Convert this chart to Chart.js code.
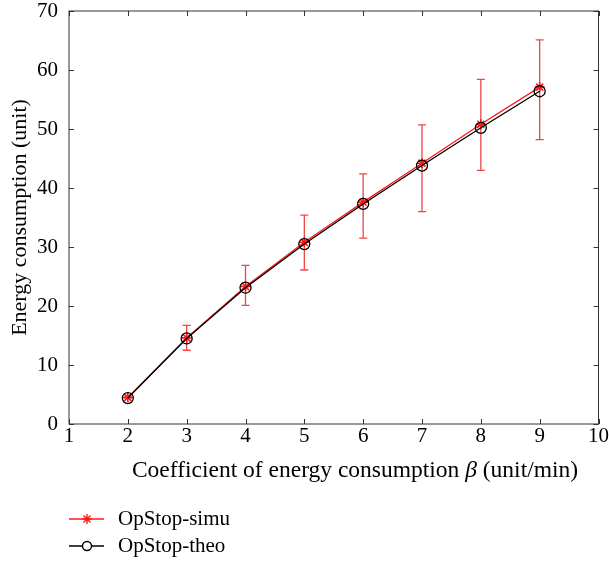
<!DOCTYPE html>
<html>
<head>
<meta charset="utf-8">
<script src="https://cdn.jsdelivr.net/npm/chart.js@4.4.0/dist/chart.umd.min.js"></script>
<style>
html, body { margin: 0; padding: 0; background: #fff; }
#wrap { width: 609px; height: 561px; }
</style>
</head>
<body>
<div id="wrap"><canvas id="chart" width="609" height="561"></canvas></div>
<script>
// ===== DATA =====
var betaValues = [2, 3, 4, 5, 6, 7, 8, 9];
var simuEnergy = [4.5, 14.6, 23.3, 30.8, 37.6, 44.2, 50.8, 57.1];
var simuLow = [4.4, 12.5, 20.1, 26.1, 31.5, 36.0, 43.0, 48.2];
var simuHigh = [4.6, 16.7, 26.9, 35.4, 42.4, 50.7, 58.4, 65.1];
var theoEnergy = [4.4, 14.5, 23.1, 30.5, 37.3, 43.8, 50.2, 56.4];
var xTicks = [1, 2, 3, 4, 5, 6, 7, 8, 9, 10];
var yTicks = [0, 10, 20, 30, 40, 50, 60, 70];
var seriesLabels = ['OpStop-simu', 'OpStop-theo'];
var xTitleParts = ['Coefficient of energy consumption ', 'β', ' (unit/min)'];

var FONT = "'Liberation Serif', 'Times New Roman', serif";
var RED = '#ff1a1a';
var ERR_RED = '#f04545';

function toPoints(ys) {
    return betaValues.map(function (x, i) { return { x: x, y: ys[i] }; });
}

// ===== PLUGINS =====
var errorBars = {
    id: 'errorBars',
    beforeDatasetsDraw: function (chart) {
        var ctx = chart.ctx, xs = chart.scales.x, ys = chart.scales.y;
        ctx.save();
        ctx.strokeStyle = ERR_RED;
        ctx.lineWidth = 1.3;
        for (var i = 0; i < betaValues.length; i++) {
            var px = xs.getPixelForValue(betaValues[i]);
            var top = ys.getPixelForValue(simuHigh[i]);
            var bot = ys.getPixelForValue(simuLow[i]);
            ctx.beginPath();
            ctx.moveTo(px, top); ctx.lineTo(px, bot);
            ctx.moveTo(px - 4, top); ctx.lineTo(px + 4, top);
            ctx.moveTo(px - 4, bot); ctx.lineTo(px + 4, bot);
            ctx.stroke();
        }
        ctx.restore();
    }
};

var frameTicks = {
    id: 'frameTicks',
    afterDraw: function (chart) {
        var ctx = chart.ctx, a = chart.chartArea;
        var xs = chart.scales.x, ys = chart.scales.y;
        var len = 5;
        ctx.save();
        ctx.strokeStyle = '#333';
        ctx.lineWidth = 1;
        ctx.strokeRect(a.left, a.top, a.right - a.left, a.bottom - a.top);
        ctx.beginPath();
        xTicks.forEach(function (v) {
            var px = Math.round(xs.getPixelForValue(v)) + 0.5;
            ctx.moveTo(px, a.bottom); ctx.lineTo(px, a.bottom - len);
            ctx.moveTo(px, a.top); ctx.lineTo(px, a.top + len);
        });
        yTicks.forEach(function (v) {
            var py = Math.round(ys.getPixelForValue(v)) + 0.5;
            ctx.moveTo(a.left, py); ctx.lineTo(a.left + len, py);
            ctx.moveTo(a.right, py); ctx.lineTo(a.right - len, py);
        });
        ctx.stroke();
        ctx.restore();
    }
};

// x title with italic beta, drawn under the axis
var xTitle = {
    id: 'xTitle',
    afterDraw: function (chart) {
        var ctx = chart.ctx;
        var fonts = ['23.5px ' + FONT, 'italic 23.5px ' + FONT, '23.5px ' + FONT];
        ctx.save();
        var widths = xTitleParts.map(function (t, i) { ctx.font = fonts[i]; return ctx.measureText(t).width; });
        var total = widths.reduce(function (s, w) { return s + w; }, 0);
        var x = 355 - total / 2;
        ctx.fillStyle = '#000';
        ctx.textBaseline = 'middle';
        ctx.textAlign = 'left';
        xTitleParts.forEach(function (t, i) {
            ctx.font = fonts[i];
            ctx.fillText(t, x, 471);
            x += widths[i];
        });
        ctx.restore();
    }
};

var sideLegend = {
    id: 'sideLegend',
    afterDraw: function (chart) {
        var ctx = chart.ctx;
        var rows = [
            { y: 519, color: RED, style: 'star', radius: 5, label: seriesLabels[0] },
            { y: 546, color: '#000', style: 'circle', radius: 4.5, label: seriesLabels[1] }
        ];
        ctx.save();
        rows.forEach(function (r) {
            ctx.strokeStyle = r.color;
            ctx.lineWidth = 1.3;
            ctx.beginPath();
            ctx.moveTo(69, r.y); ctx.lineTo(104, r.y);
            ctx.stroke();
            ctx.fillStyle = r.style === 'circle' ? '#fff' : r.color;
            ctx.lineWidth = 1.4;
            Chart.helpers.drawPoint(ctx, { pointStyle: r.style, radius: r.radius, rotation: 0, borderWidth: 1.4 }, 87, r.y);
            ctx.fillStyle = '#000';
            ctx.font = '21px ' + FONT;
            ctx.textBaseline = 'middle';
            ctx.textAlign = 'left';
            ctx.fillText(r.label, 118, r.y);
        });
        ctx.restore();
    }
};

// ===== CHART =====
new Chart(document.getElementById('chart'), {
    type: 'line',
    data: {
        datasets: [{
            label: seriesLabels[1],
            data: toPoints(theoEnergy),
            borderColor: '#000',
            borderWidth: 1.3,
            pointStyle: 'circle',
            pointRadius: 5.5,
            pointBorderColor: '#000',
            pointBackgroundColor: 'rgba(0,0,0,0)',
            pointBorderWidth: 1.3,
            order: 1
        }, {
            label: seriesLabels[0],
            data: toPoints(simuEnergy),
            borderColor: RED,
            borderWidth: 1.3,
            pointStyle: 'star',
            pointRadius: 5,
            pointBorderColor: RED,
            pointBackgroundColor: RED,
            pointBorderWidth: 1.6,
            order: 2
        }]
    },
    options: {
        responsive: false,
        animation: false,
        events: [],
        layout: { padding: { left: 0, right: 0, top: 0, bottom: 77 } },
        plugins: { legend: { display: false }, tooltip: { enabled: false } },
        scales: {
            x: {
                type: 'linear', min: 1, max: 10,
                afterBuildTicks: function (s) { s.ticks = xTicks.map(function (v) { return { value: v }; }); },
                afterFit: function (s) { s.height = 60; },
                grid: { display: false, drawTicks: false },
                border: { display: false },
                ticks: { padding: 0, color: '#000', font: { family: FONT, size: 21 } },
                title: { display: false }
            },
            y: {
                type: 'linear', min: 0, max: 70,
                afterBuildTicks: function (s) { s.ticks = yTicks.map(function (v) { return { value: v }; }); },
                afterFit: function (s) { s.width = 69; s.paddingTop = 11; s.paddingBottom = 11; },
                grid: { display: false, drawTicks: false },
                border: { display: false },
                ticks: { padding: 11, color: '#000', font: { family: FONT, size: 21 } },
                title: {
                    display: true, text: 'Energy consumption (unit)',
                    color: '#000', font: { family: FONT, size: 22 }, padding: { top: 7, bottom: 0 }
                }
            }
        }
    },
    plugins: [errorBars, frameTicks, xTitle, sideLegend]
});
</script>
</body>
</html>
